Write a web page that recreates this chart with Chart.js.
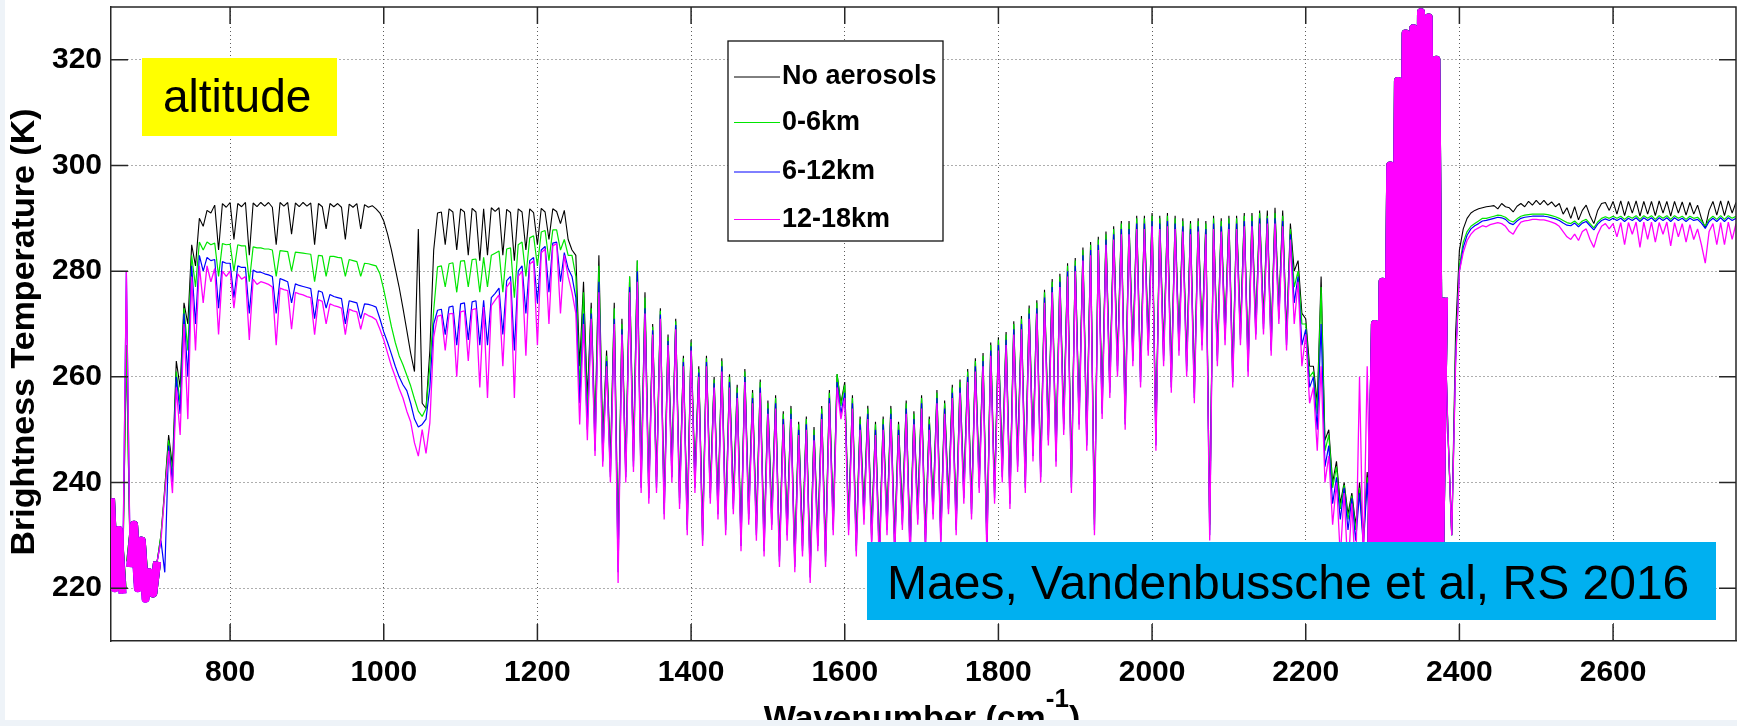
<!DOCTYPE html>
<html>
<head>
<meta charset="utf-8">
<title>Brightness temperature vs wavenumber</title>
<script src="https://cdn.jsdelivr.net/npm/chart.js@4/dist/chart.umd.min.js"></script>
<style>
  html, body { margin: 0; padding: 0; background: #eef3f8; }
  #chart { display: block; }
</style>
</head>
<body>
<canvas id="chart" width="1737" height="726"></canvas>
<script>
// --- spectral grid (cm-1) ---
const WN_START = 645, WN_STEP = 5, WN_END = 2760;
const wavenumbers = [];
for (let w = WN_START; w <= WN_END; w += WN_STEP) wavenumbers.push(w);

const xTickValues = [800, 1000, 1200, 1400, 1600, 1800, 2000, 2200, 2400, 2600];
const yTickValues = [220, 240, 260, 280, 300, 320];

// brightness temperature (K), one row = 100 cm-1 (645-740, 745-840, ...)
const noAerosols = [
  237, 221, 231, 220, 266, 225, 232, 221, 229, 219, 223, 219, 225, 230, 239, 249, 243, 263, 258, 274,
  270, 285, 281, 290, 288.5, 291.5, 291, 292.5, 284, 292.8, 292.1, 293, 286, 292.8, 292.2, 293, 283, 292.9, 292.2, 293,
  292.3, 293, 292.1, 285, 293, 292.3, 293, 287, 292.9, 292.2, 293, 292.3, 292.9, 285, 292.8, 292.2, 288, 292.8, 292.2, 292.8,
  292.1, 286, 292.7, 292.1, 292.8, 288, 292.6, 292.1, 292.4, 291.8, 291, 289.5, 287, 284, 280.5, 277, 273, 268.8, 264.5, 261,
  288, 255, 254, 265, 284, 291, 291.2, 285, 291.8, 291.2, 284, 291.8, 291.2, 283, 291.9, 291.2, 282, 291.8, 283, 292,
  291.3, 292, 283, 291.7, 291.1, 282, 291.8, 291.2, 284, 291.8, 291.1, 285, 291.9, 291.2, 286, 291.8, 291.3, 289, 291.5, 286,
  284, 283, 262, 278, 256, 274, 250, 283, 248, 265, 244, 274, 228, 271, 243, 279, 246, 282, 241, 276,
  239, 270, 241, 273, 236, 268, 243, 271, 238, 264, 233, 267, 241, 262, 231, 264, 239, 260, 236, 263.5,
  233, 260.5, 237, 258.5, 230, 261.5, 235, 257.5, 232, 259.5, 229, 255.5, 234, 256.5, 227, 253.5, 232, 254.5, 226, 251.5,
  229, 252.5, 224, 250.5, 230, 254.5, 227, 257.5, 233, 260.5, 255, 259, 233, 256.5, 229, 252.5, 235, 254.5, 231, 251.5,
  227, 252.5, 233, 254.5, 229, 251.5, 234, 255.5, 228, 253.5, 235, 256.5, 230, 252.5, 236, 257.5, 231, 255.5, 237, 258.5,
  233, 259.5, 239, 261.5, 236, 263.5, 241, 264.5, 229, 266.5, 239, 267.5, 243, 268.5, 238, 270.5, 245, 271.5, 241, 273.5,
  247, 274.5, 243, 276.5, 250, 278.5, 246, 279.5, 252, 281.5, 241, 282.5, 253, 284.5, 249, 285.5, 233, 286.5, 255, 287.5,
  259, 288.5, 263, 289.5, 253, 289.5, 265, 290.5, 261, 290.5, 267, 291, 249, 290.5, 265, 291, 260, 290.5, 267, 290,
  263, 289.5, 258, 290, 268, 289.5, 232, 290.5, 265, 290, 269, 290.5, 261, 290.5, 269, 291, 263, 291, 270, 291.5,
  271, 291.5, 267, 292, 273, 291.5, 268, 289, 280, 282, 272, 271, 262, 262, 255, 279, 248, 250, 240, 244,
  236, 240, 234, 238, 232, 240, 230, 242, 226, 270, 225, 278, 227, 300, 225, 316, 227, 325, 225, 326,
  227, 329, 225, 328, 227, 320, 226, 275, 250, 230, 268, 284, 288, 290, 291, 291.5, 291.8, 292, 292.2, 292.3,
  292.4, 291.8, 292.8, 292.2, 292, 291.2, 292.3, 292.8, 292.2, 293.2, 292.5, 293.4, 292.6, 293.4, 292.5, 293.1, 292.2, 292.8, 290.8, 292,
  290, 292.2, 289.7, 291.5, 292.5, 290.5, 289, 291.5, 292.8, 293, 291.5, 293.2, 290.8, 293.3, 290.5, 293.2, 291, 293.3, 290.4, 293.2,
  290.8, 293.2, 290.5, 293.3, 291, 293.2, 290.4, 293.2, 291, 293.1, 290.6, 293, 290.8, 292.5, 290, 288.2, 291.5, 293.2, 290.6, 293.3,
  290.5, 293.3, 291, 293
];

const km0to6 = [
  237, 221, 231, 220, 266, 225, 232, 221, 229, 219, 223, 219, 225, 230, 238, 248, 241, 261, 255, 273,
  265, 283, 277, 285.5, 284, 285.5, 285, 285.3, 279, 285.2, 285, 285.1, 280, 285, 284.8, 284.8, 278, 284.6, 284.4, 284.4,
  284.2, 284.2, 284, 279, 283.9, 283.8, 283.7, 280, 283.6, 283.5, 283.4, 283.3, 283.2, 278, 283, 282.9, 279, 282.8, 282.8, 282.6,
  282.5, 279, 282.2, 282, 281.8, 279, 281.5, 281.4, 281.2, 281, 279.5, 276.5, 273, 269.5, 266.5, 264, 262.3, 260.3, 258.3, 255.8,
  253.5, 252.5, 254, 262, 272.6, 280.8, 281, 277, 281.4, 281.6, 276, 281.9, 282, 277, 282.2, 282.3, 276, 282.6, 277, 283,
  283.4, 283.8, 276, 284.2, 284.4, 275, 285, 285.5, 279, 286.3, 286.7, 281, 287.4, 287.7, 282, 287.8, 287.8, 284, 286, 283,
  283, 279, 258, 276, 253, 273, 248, 281, 246, 264, 242, 273, 225, 270, 242, 279, 244, 282, 240, 275,
  238, 269.5, 240, 272.5, 235, 267.5, 242, 270.5, 237, 263.5, 232, 266.5, 240, 261.5, 230, 263.5, 238, 259.5, 235, 263,
  232, 260, 236, 258, 229, 261, 234, 257, 231, 259, 228, 255, 233, 256, 226, 253, 231, 254, 225, 251,
  228, 252, 223, 250, 229, 254, 226, 257, 232, 260.5, 254.5, 258.5, 232, 256, 228, 252, 234, 254, 230, 251,
  226, 252, 232, 254, 228, 251, 233, 255, 227, 253, 234, 256, 229, 252, 235, 257, 230, 255, 236, 258,
  232, 259, 238, 261, 235, 263, 240, 264, 228, 266, 238, 267, 242, 268, 237, 270, 244, 271, 240, 273,
  246, 274, 242, 276, 249, 278, 245, 279, 251, 281, 240, 282, 252, 284, 248, 285, 232, 286, 254, 287,
  258, 288, 262, 289, 252, 289, 264, 290, 260, 290, 266, 290.5, 248, 290, 264, 290.5, 259, 290, 266, 289.5,
  262, 289, 257, 289.5, 267, 289, 231, 290, 264, 289.5, 268, 290, 260, 290, 268, 290.5, 262, 290.5, 269, 291,
  270, 290.5, 266, 291, 272, 290.5, 267, 288, 277, 280, 270, 270, 260, 261, 253, 277, 246, 249, 239, 243,
  235, 239.5, 233, 237.5, 231, 239, 229, 241, 226, 270, 225, 278, 227, 300, 225, 316, 227, 325, 225, 326,
  227, 329, 225, 328, 227, 320, 226, 275, 250, 230, 264, 281, 285.5, 287.5, 288.5, 289, 289.5, 290, 290, 290.2,
  290.4, 290.6, 290.5, 290.2, 289.6, 289.3, 289.9, 290.4, 290.6, 290.7, 290.8, 290.8, 290.8, 290.8, 290.7, 290.5, 290.3, 290, 289.6, 289.2,
  289, 289.5, 288.8, 289.5, 289.8, 289, 288.2, 289.3, 290, 290.3, 290, 290.4, 290, 290.4, 289.8, 290.4, 290, 290.5, 289.8, 290.5,
  290, 290.5, 289.8, 290.5, 290, 290.5, 289.8, 290.5, 290, 290.4, 289.8, 290.4, 290, 290.2, 289.5, 288.5, 289.8, 290.4, 289.8, 290.5,
  289.8, 290.5, 290, 290.4
];

const km6to12 = [
  237, 220, 231, 219, 280, 224, 232, 220, 229, 218, 223, 219, 225, 229, 223, 247, 240, 260, 253, 272,
  260, 281, 270, 283, 280, 282.6, 282, 282.2, 273, 281.8, 281.5, 281.5, 275, 281, 280.7, 280.7, 272, 280.2, 279.8, 279.8,
  279.5, 279.3, 279, 272, 278.6, 278.3, 278, 274, 277.6, 277.3, 277.1, 276.9, 276.7, 271, 276.3, 276, 273, 275.6, 275.2, 275,
  274.8, 270, 274.4, 274.2, 274, 271, 273.8, 273.7, 273.5, 273.2, 271, 268.5, 266.5, 264.3, 262, 260, 258.5, 257.4, 255, 252,
  250.5, 251, 252, 258, 270, 272.6, 272.8, 268, 273.2, 273.4, 266, 273.8, 274, 267, 274.2, 274.4, 266, 274.5, 266, 275,
  275.8, 276.8, 268, 278.2, 279, 265, 280, 281, 272, 282, 282.6, 274, 284, 284.7, 276, 285.3, 285.5, 278, 283.5, 280.5,
  279, 275, 255, 272, 250, 272, 246, 278, 244, 263, 241, 271, 223, 269, 241, 277, 243, 280, 239, 273,
  237, 268.8, 239, 271.8, 234, 266.8, 241, 269.8, 236, 262.8, 231, 265.8, 239, 260.8, 229, 262.8, 237, 258.8, 234, 262,
  231, 259, 235, 257, 228, 260, 233, 256, 230, 258, 227, 254, 232, 255, 225, 252, 230, 253, 224, 250,
  227, 251, 222, 249, 228, 253, 225, 256, 231, 259, 253, 257, 231, 255, 227, 251, 233, 253, 229, 250,
  225, 251, 231, 253, 227, 250, 232, 254, 226, 252, 233, 255, 228, 251, 234, 256, 229, 254, 235, 257,
  231, 258, 237, 260, 234, 262, 239, 263, 227, 265, 237, 266, 241, 267, 236, 269, 243, 270, 239, 272,
  245, 273, 241, 275, 248, 277, 244, 278, 250, 280, 239, 281, 251, 283, 247, 284, 231, 285, 253, 286,
  257, 287, 261, 288, 251, 288, 263, 289, 259, 289, 265, 289.5, 247, 289, 263, 289.5, 258, 289, 265, 288.5,
  261, 288, 256, 288.5, 266, 288, 230, 289, 263, 288.5, 267, 289, 259, 289, 267, 289.5, 261, 289.5, 268, 290,
  269, 290, 265, 290, 271, 289.5, 266, 287, 274, 279, 266, 269, 258, 260, 250, 270, 243, 247, 236, 241,
  233, 239, 231, 237, 229, 238, 228, 240, 226, 270, 225, 278, 227, 300, 225, 316, 227, 325, 225, 326,
  227, 329, 225, 328, 227, 320, 226, 275, 250, 230, 263, 280, 284.5, 286.8, 288, 288.6, 289, 289.5, 289.6, 289.8,
  290, 290.2, 290.1, 289.8, 289.1, 288.8, 289.5, 290, 290.2, 290.3, 290.4, 290.4, 290.4, 290.4, 290.3, 290.1, 289.9, 289.6, 289.1, 288.7,
  288.6, 289.1, 288.4, 289.1, 289.4, 288.6, 287.8, 288.9, 289.6, 289.9, 289.6, 290, 289.6, 290, 289.4, 290, 289.6, 290.1, 289.4, 290.1,
  289.6, 290.1, 289.4, 290.1, 289.6, 290.1, 289.4, 290.1, 289.6, 290, 289.4, 290, 289.6, 289.8, 289.1, 288.1, 289.4, 290, 289.4, 290.1,
  289.4, 290.1, 289.6, 290
];

const km12to18 = [
  237, 220, 231, 219, 280, 224, 232, 220, 229, 218, 223, 219, 225, 229, 238, 246, 238, 258, 249, 270,
  252, 279, 265, 281, 274, 281, 278, 280.5, 268, 280, 279, 280, 273, 279.5, 278.5, 279, 267, 278.5, 277.5, 278,
  277.8, 277.5, 277, 266, 276.8, 276.5, 276.3, 269, 276, 275.7, 275.5, 275.2, 275, 268, 274.6, 274.3, 270, 273.8, 273.5, 273.3,
  273, 268, 272.8, 272.5, 272.3, 269, 272, 271.6, 271.3, 270.8, 269, 267, 264.5, 262, 260, 257.8, 256, 253.5, 251.5, 247.5,
  245, 250, 245.5, 251.3, 267.5, 271.5, 271.7, 265, 271.9, 272, 260, 272.3, 272.5, 263, 272.7, 272.9, 258, 273.2, 256, 273.5,
  274.5, 275.5, 262, 277, 278, 256, 279, 280, 264, 281.3, 282, 266, 283.5, 284.2, 270, 284.8, 285.2, 272, 283, 279,
  276, 272, 251, 270, 248, 271, 245, 276, 243, 262, 240, 270, 221, 268, 240, 276, 242, 278, 238, 272,
  236, 268, 238, 271, 233, 266, 240, 269, 235, 262, 230, 265, 238, 260, 228, 262, 236, 258, 233, 261,
  230, 258, 234, 256, 227, 259, 232, 255, 229, 257, 226, 253, 231, 254, 224, 251, 229, 252, 223, 249,
  226, 250, 221, 248, 227, 252, 224, 255, 230, 258, 252, 256, 230, 254, 226, 250, 232, 252, 228, 249,
  224, 250, 230, 252, 226, 249, 231, 253, 225, 251, 232, 254, 227, 250, 233, 255, 228, 253, 234, 256,
  230, 257, 236, 259, 233, 261, 238, 262, 226, 264, 236, 265, 240, 266, 235, 268, 242, 269, 238, 271,
  244, 272, 240, 274, 247, 276, 243, 277, 249, 279, 238, 280, 250, 282, 246, 283, 230, 284, 252, 285,
  256, 286, 260, 287, 250, 287, 262, 288, 258, 288, 264, 288.5, 246, 288, 262, 288.5, 257, 288, 264, 287.5,
  260, 287, 255, 287.5, 265, 287, 229, 288, 262, 287.5, 266, 288, 258, 288, 266, 288.5, 260, 288.5, 267, 289,
  268, 289, 264, 289, 270, 288.5, 265, 286, 270, 278, 262, 268, 255, 258, 246, 262, 240, 245, 232, 240,
  226, 238, 223, 236, 222, 260, 224, 262, 226, 270, 225, 278, 227, 300, 225, 316, 227, 325, 225, 326,
  227, 329, 225, 328, 227, 320, 226, 275, 250, 230, 262, 280, 283.5, 285.8, 287, 287.8, 288.2, 288.6, 288.4, 288.8,
  289, 289.2, 289, 288.5, 287.5, 287, 288.3, 289.3, 289.5, 289.6, 289.8, 289.8, 289.7, 289.7, 289.5, 289.3, 289, 288.5, 287.5, 286.5,
  286, 287, 285.8, 287.5, 288, 286, 284.5, 287, 288.5, 289, 288, 289, 286.5, 289.2, 285, 289.2, 287, 289.3, 284.5, 289.3,
  286, 289.3, 285.5, 289.2, 287, 289.3, 284.8, 289.2, 286.5, 289, 285.5, 288.8, 286, 288, 285, 281.5, 287.5, 289, 285, 289.2,
  285, 289.3, 286, 289
];

const FONT = '"Liberation Sans", Arial, Helvetica, sans-serif';
const AXIS_COLOR = '#262626';
const GRID_COLOR = '#5c5c5c';
const TICK_LEN = 17;
// bands drawn so densely in the original that they read as solid patches
const DENSE_BANDS = [[645, 660], [670, 705], [2285, 2380]];
const inDenseBand = c => DENSE_BANDS.some(([lo, hi]) => c.p0.parsed.x >= lo && c.p1.parsed.x <= hi);

const series = [
  { label: 'No aerosols', values: noAerosols, color: '#000000', width: 1.1 },
  { label: '0-6km', values: km0to6, color: '#00e600', width: 1.2 },
  { label: '6-12km', values: km6to12, color: '#0000ff', width: 1.2 },
  { label: '12-18km', values: km12to18, color: '#ff00ff', width: 1.3 }
];

// axes box, inward ticks, legend, annotations and axis titles
const decorations = {
  id: 'decorations',
  beforeDraw(chart) {
    const ctx = chart.ctx;
    ctx.save();
    ctx.fillStyle = '#eef3f8';
    ctx.fillRect(0, 0, chart.width, chart.height);
    ctx.fillStyle = '#ffffff';
    ctx.fillRect(5, 0, chart.width - 5, 720);
    ctx.restore();
  },
  afterDraw(chart) {
    const { ctx, chartArea: a, scales: { x, y } } = chart;
    ctx.save();

    ctx.strokeStyle = AXIS_COLOR;
    ctx.lineWidth = 1.5;
    ctx.beginPath();
    ctx.moveTo(a.left, a.top);
    ctx.lineTo(a.right, a.top);
    ctx.lineTo(a.right, a.bottom);
    xTickValues.forEach(v => {
      const px = x.getPixelForValue(v);
      ctx.moveTo(px, a.bottom); ctx.lineTo(px, a.bottom - TICK_LEN);
      ctx.moveTo(px, a.top); ctx.lineTo(px, a.top + TICK_LEN);
    });
    yTickValues.forEach(v => {
      const py = y.getPixelForValue(v);
      ctx.moveTo(a.left, py); ctx.lineTo(a.left + TICK_LEN, py);
      ctx.moveTo(a.right, py); ctx.lineTo(a.right - TICK_LEN, py);
    });
    ctx.stroke();

    // legend
    const lg = { left: 728, top: 41, width: 215, height: 200 };
    const rowY = [77, 122.5, 172, 219.5];
    ctx.fillStyle = '#ffffff';
    ctx.fillRect(lg.left, lg.top, lg.width, lg.height);
    ctx.strokeStyle = '#111';
    ctx.lineWidth = 1.3;
    ctx.strokeRect(lg.left, lg.top, lg.width, lg.height);
    ctx.font = 'bold 27px ' + FONT;
    ctx.textBaseline = 'middle';
    ctx.textAlign = 'left';
    series.forEach((s, i) => {
      ctx.strokeStyle = s.color;
      ctx.lineWidth = 1;
      ctx.beginPath();
      ctx.moveTo(734, rowY[i]);
      ctx.lineTo(780, rowY[i]);
      ctx.stroke();
      ctx.fillStyle = '#000';
      ctx.fillText(s.label, 782, rowY[i]);
    });

    // annotation boxes
    ctx.fillStyle = '#ffff00';
    ctx.fillRect(142, 58, 195, 78);
    ctx.fillStyle = '#000';
    ctx.textBaseline = 'alphabetic';
    ctx.font = '46px ' + FONT;
    ctx.fillText('altitude', 163, 112);

    ctx.fillStyle = '#00b0f0';
    ctx.fillRect(867, 542, 849, 78);
    ctx.fillStyle = '#000';
    ctx.font = '48px ' + FONT;
    ctx.fillText('Maes, Vandenbussche et al, RS 2016', 887, 599);

    // y title
    ctx.save();
    ctx.translate(25, 332);
    ctx.rotate(-Math.PI / 2);
    ctx.font = 'bold 34px ' + FONT;
    ctx.textAlign = 'center';
    ctx.textBaseline = 'middle';
    ctx.fillText('Brightness Temperature (K)', 0, 0);
    ctx.restore();

    // x title (cut by the bottom strip, as in the slide)
    const main = 'bold 34px ' + FONT, sup = 'bold 26px ' + FONT;
    ctx.font = main;
    const w1 = ctx.measureText('Wavenumber (cm').width;
    const w3 = ctx.measureText(')').width;
    ctx.font = sup;
    const w2 = ctx.measureText('-1').width;
    let tx = 922 - (w1 + w2 + w3) / 2;
    ctx.textAlign = 'left';
    ctx.font = main;
    ctx.fillText('Wavenumber (cm', tx, 729);
    tx += w1;
    ctx.font = sup;
    ctx.fillText('-1', tx, 707);
    tx += w2;
    ctx.font = main;
    ctx.fillText(')', tx, 729);

    ctx.fillStyle = '#eef3f8';
    ctx.fillRect(0, 720, chart.width, chart.height - 720);
    ctx.restore();
  }
};

const tickFont = { family: FONT, size: 30, weight: 'bold' };
const noEdgePadding = s => { s.paddingTop = 0; s.paddingBottom = 0; s.paddingLeft = 0; s.paddingRight = 0; };

new Chart(document.getElementById('chart'), {
  type: 'line',
  data: {
    datasets: series.map((s, i) => ({
      label: s.label,
      data: s.values.map((t, j) => ({ x: wavenumbers[j], y: t })),
      borderColor: s.color,
      backgroundColor: s.color,
      borderWidth: s.width,
      borderJoinStyle: 'bevel',
      pointRadius: 0,
      tension: 0,
      fill: false,
      order: series.length - i,
      segment: {
        borderWidth: c => inDenseBand(c) ? 8 : undefined,
        borderJoinStyle: c => inDenseBand(c) ? 'round' : undefined
      }
    }))
  },
  options: {
    responsive: false,
    devicePixelRatio: 1,
    animation: false,
    events: [],
    layout: { padding: { top: 7, right: 1, bottom: 0, left: 0 } },
    plugins: { legend: { display: false }, tooltip: { enabled: false } },
    scales: {
      x: {
        type: 'linear',
        min: WN_START,
        max: WN_END,
        afterBuildTicks: s => { s.ticks = xTickValues.map(v => ({ value: v })); },
        afterFit: s => { s.height = 85; noEdgePadding(s); },
        grid: { color: GRID_COLOR, lineWidth: 1, drawTicks: false },
        border: { display: true, color: AXIS_COLOR, width: 1.5, dash: [1, 3] },
        ticks: { color: '#000', font: tickFont, padding: 14, maxRotation: 0, autoSkip: false, callback: v => String(v) }
      },
      y: {
        min: 210,
        max: 330,
        afterBuildTicks: s => { s.ticks = yTickValues.map(v => ({ value: v })); },
        afterFit: s => { s.width = 111; noEdgePadding(s); },
        grid: { color: GRID_COLOR, lineWidth: 1, drawTicks: false },
        border: { display: true, color: AXIS_COLOR, width: 1.5, dash: [1, 3] },
        ticks: { color: '#000', font: tickFont, padding: 9, autoSkip: false, callback: v => String(v) }
      }
    }
  },
  plugins: [decorations]
});
</script>
</body>
</html>
